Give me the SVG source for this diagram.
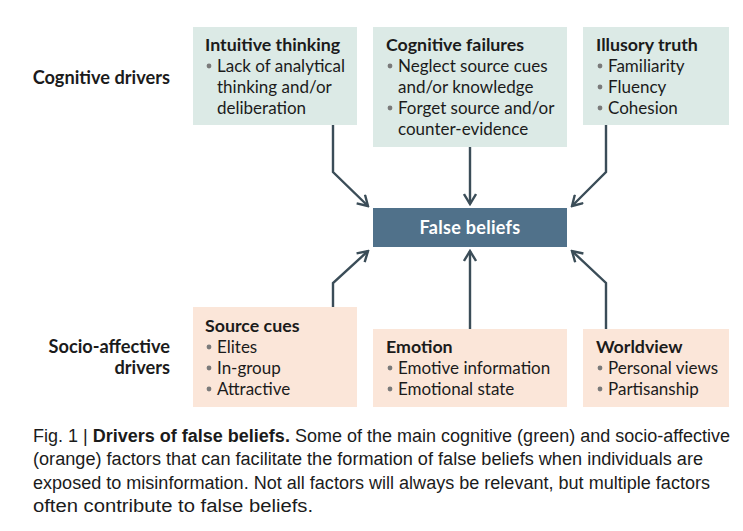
<svg xmlns="http://www.w3.org/2000/svg" width="743" height="531" viewBox="0 0 743 531">
<defs>
<marker id="ah" viewBox="0 0 14 14" refX="12" refY="7" markerWidth="14" markerHeight="14" markerUnits="userSpaceOnUse" orient="auto">
<path d="M2,1 L12,7 L2,13" fill="none" stroke="#3b4d58" stroke-width="2.4"/>
</marker>
<style>
.cog{fill:#dceae6}
.soc{fill:#fbe6d9}
.t{font-family:"Lato","Liberation Sans",sans-serif;font-size:17px;fill:#1b1b1b}
.h{font-weight:bold;font-size:17.8px}
.b{fill:#7a7a7a}
.lab{font-family:"Lato","Liberation Sans",sans-serif;font-size:18.2px;font-weight:bold;fill:#1b1b1b;text-anchor:end}
.conn path{fill:none;stroke:#3b4d58;stroke-width:2.4;marker-end:url(#ah)}
.cap{font-family:"Liberation Sans",sans-serif;font-size:18px;fill:#1b1b1b}
</style>
</defs>
<rect width="743" height="531" fill="#ffffff"/>

<text class="lab" x="170" y="84">Cognitive drivers</text>
<text class="lab" x="170" y="353">Socio-affective</text>
<text class="lab" x="170" y="374">drivers</text>

<g id="intuitive">
<rect class="cog" x="193" y="27" width="164" height="98"/>
<text class="t h" x="205" y="51">Intuitive thinking</text>
<circle class="b" cx="209" cy="66" r="2.4"/>
<text class="t" x="217" y="72">Lack of analytical</text>
<text class="t" x="217" y="93">thinking and/or</text>
<text class="t" x="217" y="114">deliberation</text>
</g>

<g id="cogfail">
<rect class="cog" x="373" y="27" width="194" height="120"/>
<text class="t h" x="386" y="51">Cognitive failures</text>
<circle class="b" cx="390" cy="66" r="2.4"/>
<text class="t" x="398" y="72">Neglect source cues</text>
<text class="t" x="398" y="93">and/or knowledge</text>
<circle class="b" cx="390" cy="108" r="2.4"/>
<text class="t" x="398" y="114">Forget source and/or</text>
<text class="t" x="398" y="135">counter-evidence</text>
</g>

<g id="illusory">
<rect class="cog" x="583" y="27" width="146" height="98"/>
<text class="t h" x="596" y="51">Illusory truth</text>
<circle class="b" cx="600" cy="66" r="2.4"/>
<text class="t" x="608" y="72">Familiarity</text>
<circle class="b" cx="600" cy="87" r="2.4"/>
<text class="t" x="608" y="93">Fluency</text>
<circle class="b" cx="600" cy="108" r="2.4"/>
<text class="t" x="608" y="114">Cohesion</text>
</g>

<g id="false-beliefs">
<rect x="373" y="208" width="194" height="39" fill="#50718a"/>
<text x="470" y="234" text-anchor="middle" font-family="Lato,'Liberation Sans',sans-serif" font-size="18" font-weight="bold" letter-spacing="0.3" fill="#ffffff">False beliefs</text>
</g>

<g id="source">
<rect class="soc" x="193" y="307" width="164" height="100"/>
<text class="t h" x="205" y="332">Source cues</text>
<circle class="b" cx="209" cy="347" r="2.4"/>
<text class="t" x="217" y="353">Elites</text>
<circle class="b" cx="209" cy="368" r="2.4"/>
<text class="t" x="217" y="374">In-group</text>
<circle class="b" cx="209" cy="389" r="2.4"/>
<text class="t" x="217" y="395">Attractive</text>
</g>

<g id="emotion">
<rect class="soc" x="373" y="329" width="194" height="78"/>
<text class="t h" x="386" y="353">Emotion</text>
<circle class="b" cx="390" cy="368" r="2.4"/>
<text class="t" x="398" y="374">Emotive information</text>
<circle class="b" cx="390" cy="389" r="2.4"/>
<text class="t" x="398" y="395">Emotional state</text>
</g>

<g id="worldview">
<rect class="soc" x="583" y="329" width="146" height="78"/>
<text class="t h" x="596" y="353">Worldview</text>
<circle class="b" cx="600" cy="368" r="2.4"/>
<text class="t" x="608" y="374">Personal views</text>
<circle class="b" cx="600" cy="389" r="2.4"/>
<text class="t" x="608" y="395">Partisanship</text>
</g>

<g class="conn" id="connectors">
<path d="M333,125 V172 L368,206"/>
<path d="M470,147 V204"/>
<path d="M606,125 V172 L572,206"/>
<path d="M333,307 V283 L368,251"/>
<path d="M470,329 V251"/>
<path d="M606,329 V283 L572,251"/>
</g>

<g id="caption">
<text class="cap" x="33" y="442" textLength="697" lengthAdjust="spacingAndGlyphs">Fig. 1 | <tspan font-weight="bold">Drivers of false beliefs.</tspan> Some of the main cognitive (green) and socio-affective</text>
<text class="cap" x="33" y="465" textLength="670" lengthAdjust="spacingAndGlyphs">(orange) factors that can facilitate the formation of false beliefs when individuals are</text>
<text class="cap" x="33" y="489" textLength="677" lengthAdjust="spacingAndGlyphs">exposed to misinformation. Not all factors will always be relevant, but multiple factors</text>
<text class="cap" x="33" y="512" textLength="280" lengthAdjust="spacingAndGlyphs">often contribute to false beliefs.</text>
</g>
</svg>
